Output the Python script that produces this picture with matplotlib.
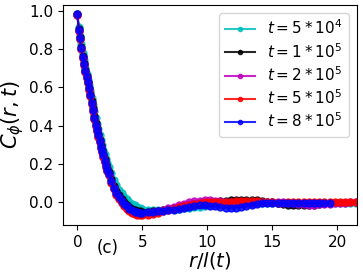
import numpy as np
import matplotlib
matplotlib.use("Agg")
import matplotlib.pyplot as plt

# r/l(t) sampling: dense on the steep part, coarser in the flat tail
r_a = np.arange(0.0, 2.45, 0.1)
r_b = np.arange(2.6, 4.9, 0.2)
r_c = np.arange(5.0, 22.3, 0.4)
r_all = np.r_[r_a, r_b, r_c]

labels = [r"$t=5*10^4$", r"$t=1*10^5$", r"$t=2*10^5$", r"$t=5*10^5$", r"$t=8*10^5$"]
colors = ["c", "k", "m", "r", "b"]

c_5e4 = [0.985, 0.915, 0.87, 0.825, 0.78, 0.74, 0.70, 0.67, 0.64, 0.61, 0.58, 0.545, 0.51,
         0.475, 0.44, 0.41, 0.38, 0.352, 0.325, 0.30, 0.275, 0.251, 0.228, 0.207, 0.186,
         0.15, 0.118, 0.09, 0.066, 0.046, 0.029, 0.015, 0.003, -0.008, -0.017, -0.025, -0.031,
         -0.035, -0.039, -0.040, -0.040, -0.039, -0.037, -0.035, -0.033, -0.031, -0.029, -0.026,
         -0.023, -0.019, -0.015, -0.011, -0.008, -0.005, -0.003, -0.002, -0.002, -0.003, -0.004,
         -0.005, -0.005, -0.005, -0.005, -0.005, -0.005, -0.005, -0.004, -0.003, -0.002, -0.002,
         -0.003, -0.004, -0.005, -0.006, -0.006, -0.005, -0.004, -0.003, -0.003, -0.003, -0.003]
c_1e5 = [0.98, 0.905, 0.86, 0.81, 0.765, 0.726, 0.69, 0.66, 0.63, 0.598, 0.565, 0.528, 0.49,
         0.452, 0.415, 0.385, 0.355, 0.327, 0.30, 0.275, 0.25, 0.225, 0.20, 0.178, 0.157,
         0.12, 0.087, 0.06, 0.037, 0.017, 0.0, -0.013, -0.024, -0.033, -0.040, -0.045, -0.048,
         -0.049, -0.049, -0.047, -0.044, -0.040, -0.035, -0.030, -0.025, -0.020, -0.015, -0.011,
         -0.008, -0.005, -0.002, 0.001, 0.004, 0.007, 0.010, 0.012, 0.013, 0.013, 0.012, 0.010,
         0.007, 0.003, -0.001, -0.005, -0.009, -0.012, -0.014, -0.015, -0.015, -0.014, -0.012,
         -0.010]
c_2e5 = [0.975, 0.895, 0.85, 0.80, 0.755, 0.716, 0.68, 0.65, 0.62, 0.588, 0.555, 0.515, 0.475,
         0.437, 0.40, 0.37, 0.34, 0.312, 0.285, 0.26, 0.235, 0.21, 0.186, 0.164, 0.142,
         0.104, 0.072, 0.045, 0.022, 0.002, -0.015, -0.029, -0.040, -0.049, -0.055, -0.059, -0.061,
         -0.061, -0.058, -0.053, -0.047, -0.040, -0.032, -0.024, -0.016, -0.008, -0.001, 0.005,
         0.009, 0.011, 0.011, 0.009, 0.006, 0.003, 0.0, -0.002, -0.003, -0.003, -0.002, 0.0,
         0.002, 0.003, 0.003, 0.002, 0.0, -0.003, -0.006, -0.009, -0.011, -0.012, -0.012, -0.011,
         -0.009, -0.007, -0.005, -0.003, -0.002, -0.001, 0.0, 0.0]
c_5e5 = [0.975, 0.895, 0.85, 0.80, 0.755, 0.716, 0.68, 0.65, 0.62, 0.588, 0.555, 0.515, 0.475,
         0.437, 0.40, 0.37, 0.34, 0.312, 0.285, 0.26, 0.235, 0.21, 0.185, 0.162, 0.14,
         0.10, 0.068, 0.04, 0.017, -0.003, -0.02, -0.035, -0.047, -0.056, -0.062, -0.066, -0.068,
         -0.068, -0.065, -0.060, -0.054, -0.047, -0.040, -0.033, -0.026, -0.019, -0.012, -0.007,
         -0.003, 0.0, 0.002, 0.003, 0.003, 0.003, 0.003, 0.004, 0.005, 0.006, 0.006, 0.005, 0.003,
         0.001, -0.001, -0.002, -0.002, -0.001, 0.0, 0.001, 0.002, 0.003, 0.003, 0.003, 0.003,
         0.003, 0.002, 0.002, 0.001, 0.001, 0.001, 0.001, 0.001]
c_8e5 = [0.98, 0.90, 0.855, 0.805, 0.76, 0.72, 0.685, 0.655, 0.625, 0.595, 0.56, 0.52, 0.48,
         0.44, 0.405, 0.375, 0.35, 0.32, 0.29, 0.267, 0.245, 0.217, 0.19, 0.167, 0.145,
         0.11, 0.075, 0.05, 0.027, 0.008, -0.008, -0.022, -0.033, -0.042, -0.049, -0.053, -0.055,
         -0.055, -0.053, -0.050, -0.047, -0.044, -0.041, -0.038, -0.035, -0.030, -0.025, -0.020,
         -0.017, -0.016, -0.018, -0.022, -0.026, -0.029, -0.030, -0.029, -0.025, -0.019, -0.013,
         -0.009, -0.006, -0.005, -0.005, -0.005, -0.006, -0.006, -0.006, -0.006, -0.005, -0.005,
         -0.005, -0.005, -0.005, -0.005]

series = [c_5e4, c_1e5, c_2e5, c_5e5, c_8e5]

fig, ax = plt.subplots(figsize=(3.63, 2.72), dpi=100)
fig.subplots_adjust(left=0.174, right=0.983, top=0.982, bottom=0.172)

for y, color, label in zip(series, colors, labels):
    ax.plot(r_all[:len(y)], y, "o-", color=color, markersize=5, linewidth=1.5,
            alpha=0.85, label=label)

ax.set_xlim(-1.1, 21.5)
ax.set_ylim(-0.12, 1.03)
ax.set_xticks([0, 5, 10, 15, 20])
ax.set_yticks([0.0, 0.2, 0.4, 0.6, 0.8, 1.0])
ax.set_yticklabels([f"{v:.1f}" for v in [0.0, 0.2, 0.4, 0.6, 0.8, 1.0]])
ax.tick_params(labelsize=11)
ax.set_xlabel(r"$r/l(t)$", fontsize=14, labelpad=0)
ax.set_ylabel(r"$C_\phi(r,t)$", fontsize=15, labelpad=2)
ax.text(0.152, -0.105, "(c)", transform=ax.transAxes, ha="center", va="center", fontsize=12)

ax.legend(loc="upper right", fontsize=11, markerscale=0.6, handlelength=2.0,
          labelspacing=0.3)

fig.savefig("out.png", dpi=100)
